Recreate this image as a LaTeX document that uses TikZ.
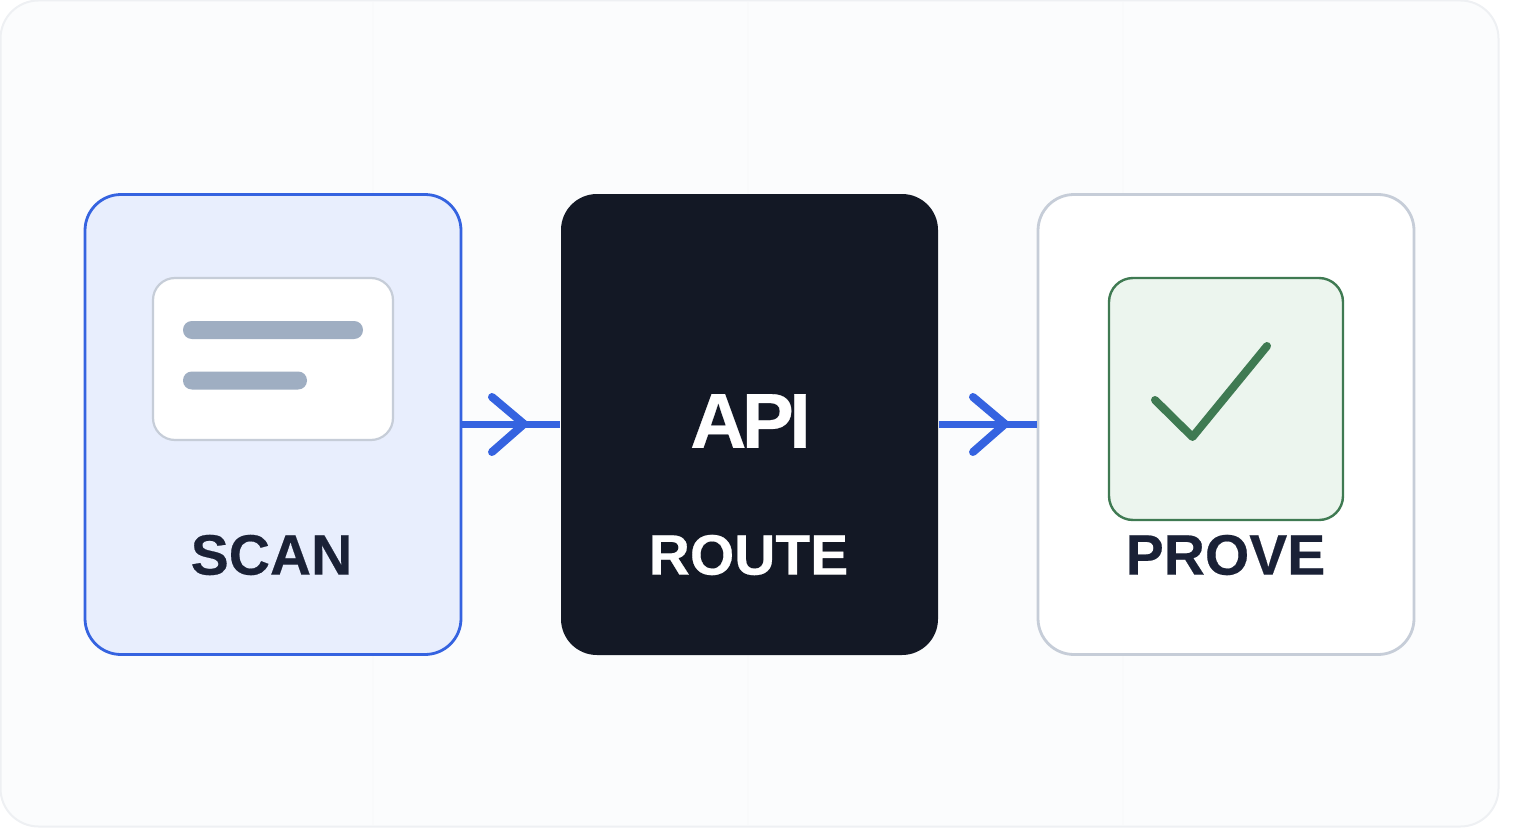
\documentclass[tikz,border=0pt]{standalone}
\usepackage{fontspec}
\setmainfont[BoldFeatures={FakeBold=0.35}]{Liberation Sans}
\definecolor{panelfill}{HTML}{FBFCFD}
\definecolor{panelline}{HTML}{EEF0F3}
\definecolor{gridfaint}{HTML}{F9FAFB}
\definecolor{bluefill}{HTML}{E8EEFD}
\definecolor{blueline}{HTML}{3563E0}
\definecolor{darkfill}{HTML}{131825}
\definecolor{greyline}{HTML}{C6CDD8}
\definecolor{barcol}{HTML}{9FAEC2}
\definecolor{greenfill}{HTML}{ECF5EE}
\definecolor{greenline}{HTML}{3F7A52}
\definecolor{inktext}{HTML}{1A2136}
\tikzset{
  x=0.5pt,y=-0.5pt,
  card/.style={rectangle,rounded corners=18pt,minimum width=188pt,minimum height=230pt,inner sep=0pt,line width=1.4pt},
  label/.style={font=\bfseries\fontsize{28.5}{28.5}\selectfont,inner sep=0pt},
  link/.style={draw=blueline,line width=3.2pt},
  chev/.style={draw=blueline,line width=4pt,line cap=round,line join=round},
  bar/.style={rectangle,rounded corners=4.4pt,fill=barcol,inner sep=0pt,minimum height=9pt},
  faint/.style={draw=gridfaint,line width=0.8pt},
}
\begin{document}
\begin{tikzpicture}
\useasboundingbox (0,0) rectangle (1520,840);
\node (panel) at (749.5,413.5) [rectangle,rounded corners=19pt,minimum width=749pt,minimum height=413pt,fill=panelfill,draw=panelline,line width=1pt,inner sep=0pt] {};
\coordinate (ga) at (373,2);
\coordinate (gb) at (373,825);
\coordinate (gc) at (748,2);
\coordinate (gd) at (748,825);
\coordinate (ge) at (1123,2);
\coordinate (gf) at (1123,825);
\draw[faint] (ga) -- (gb);
\draw[faint] (gc) -- (gd);
\draw[faint] (ge) -- (gf);
\node (scan) at (273,424.5) [card,fill=bluefill,draw=blueline] {};
\node (route) at (749.5,424.5) [card,minimum width=188.5pt,minimum height=230.5pt,fill=darkfill] {};
\node (prove) at (1226,424.5) [card,fill=white,draw=greyline] {};
\node (doc) at (273,359) [rectangle,rounded corners=11pt,minimum width=120pt,minimum height=81pt,fill=white,draw=greyline,line width=1.1pt,inner sep=0pt] {};
\node (bara) at (273,330) [bar,minimum width=90pt] {};
\node (barb) at (245,380.5) [bar,minimum width=62pt] {};
\node (check) at (1226,399) [rectangle,rounded corners=12pt,minimum width=117pt,minimum height=121pt,fill=greenfill,draw=greenline,line width=1.2pt,inner sep=0pt] {};
\coordinate (ca) at (1155,400);
\coordinate (cb) at (1192.5,437);
\coordinate (cc) at (1267,346);
\draw[line width=4pt,draw=greenline,line cap=round,line join=round] (ca) -- (cb) -- (cc);
\node (api) at (750.5,421) [font=\bfseries\fontsize{39}{39}\selectfont\addfontfeature{LetterSpace=-6},text=white,inner sep=0pt] {API};
\node (scanl) at (271.5,555) [label,text=inktext] {SCAN};
\node (routel) at (748.5,555) [label,text=white] {ROUTE};
\node (provel) at (1225.5,555) [label,text=inktext] {PROVE};
\draw[link] (scan.east) -- (route.west);
\draw[link] (route.east) -- (prove.west);
\coordinate (t1) at (524,424);
\coordinate (t1a) at (492,397);
\coordinate (t1b) at (492,452);
\coordinate (t2) at (1005,424);
\coordinate (t2a) at (973,397);
\coordinate (t2b) at (973,452);
\draw[chev] (t1a) -- (t1) -- (t1b);
\draw[chev] (t2a) -- (t2) -- (t2b);
\end{tikzpicture}
\end{document}
